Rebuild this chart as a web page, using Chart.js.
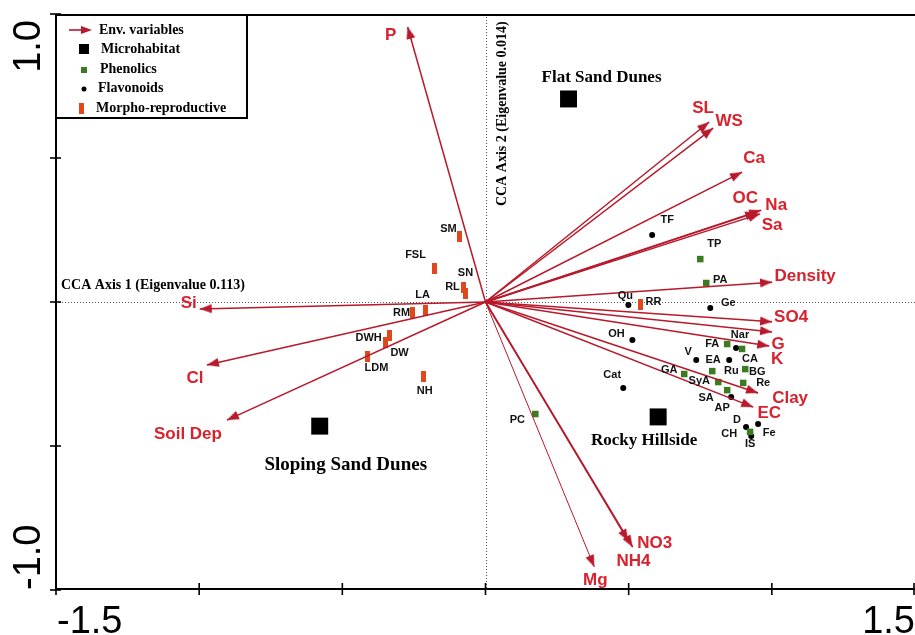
<!DOCTYPE html>
<html>
<head>
<meta charset="utf-8">
<script src="https://cdn.jsdelivr.net/npm/chart.js@4"></script>
<style>
  html, body { margin: 0; padding: 0; background: #fff; }
  canvas { display: block; }
</style>
</head>
<body>
<canvas id="cca" width="915" height="635"></canvas>
<script>
/* ---- data: CCA biplot scores ---- */
// environmental variables (arrow tips)
const envNames = ["P","SL","WS","Ca","OC","Na","Sa","Density","SO4","G","K","Clay","EC","NO3","NH4","Mg","Si","Cl","Soil Dep"];
const envX = [-0.272, 0.781, 0.795, 0.896, 0.949, 0.963, 0.959, 1.001, 1.001, 1.001, 0.991, 0.952, 0.935, 0.514, 0.499, 0.380, -0.998, -0.973, -0.903];
const envY = [ 0.955, 0.625, 0.604, 0.451, 0.312, 0.319, 0.306, 0.069, -0.069, -0.104, -0.153, -0.316, -0.365, -0.851, -0.830, -0.920, -0.024, -0.219, -0.410];

// microhabitats
const habNames = ["Flat Sand Dunes", "Sloping Sand Dunes", "Rocky Hillside"];
const habX = [0.290, -0.579, 0.603];
const habY = [0.705, -0.431, -0.399];

// phenolics
const phenNames = ["TP","PA","PC","FA","CA","Ru","BG","Re","GA","SyA","SA","IS"];
const phenX = [0.750, 0.771, 0.174, 0.844, 0.896, 0.792, 0.907, 0.900, 0.694, 0.813, 0.844, 0.924];
const phenY = [0.149, 0.066, -0.389, -0.146, -0.163, -0.240, -0.233, -0.281, -0.250, -0.278, -0.306, -0.451];

// flavonoids
const flavNames = ["TF","Qu","Ge","OH","Cat","Nar","V","EA","AP","D","Fe","CH"];
const flavX = [0.582, 0.499, 0.785, 0.513, 0.481, 0.875, 0.736, 0.851, 0.858, 0.910, 0.952, 0.928];
const flavY = [0.233, -0.010, -0.021, -0.132, -0.299, -0.160, -0.201, -0.201, -0.330, -0.434, -0.424, -0.465];

// morpho-reproductive traits
const morphNames = ["SM","FSL","SN","RL","LA","RM","DWH","DW","LDM","NH","RR"];
const morphX = [-0.091, -0.178, -0.077, -0.070, -0.209, -0.255, -0.335, -0.349, -0.412, -0.216, 0.541];
const morphY = [0.226, 0.115, 0.049, 0.031, -0.028, -0.038, -0.118, -0.142, -0.188, -0.260, -0.007];

// axes
const xTicks = [-1.5, -1, -0.5, 0, 0.5, 1, 1.5];
const yTicks = [-1, -0.5, 0, 0.5, 1];
const xTickText = {"-1.5": "-1.5", "1.5": "1.5"};
const yTickText = {"-1": "-1.0", "1": "1.0"};
const axis1Title = "CCA Axis 1 (Eigenvalue 0.113)";
const axis2Title = "CCA Axis 2 (Eigenvalue 0.014)";

/* ---- label placement (pixel offsets from each mark) ---- */
const labelOff = {
  "P":[-17,8], "SL":[-6,-14], "WS":[16,-7], "Ca":[12,-14], "OC":[-12,-14], "Na":[15,-5], "Sa":[12,11],
  "Density":[33,-6], "SO4":[19,-5], "G":[6,12], "K":[8,13], "Clay":[32,5], "EC":[16,6],
  "NO3":[22,-4], "NH4":[5,20], "Mg":[1,13], "Si":[-11,-6], "Cl":[-12,13], "Soil Dep":[-39,14],
  "Flat Sand Dunes":[33,-21], "Sloping Sand Dunes":[26,39], "Rocky Hillside":[-14,24],
  "TP":[14,-15], "PA":[14,-3], "PC":[-18,6], "FA":[-15,0], "CA":[8,10], "Ru":[19,0], "BG":[12,3],
  "Re":[20,0], "GA":[-15,-4], "SyA":[-19,-1], "SA":[-21,8], "IS":[0,12],
  "TF":[15,-15], "Qu":[-3,-9], "Ge":[18,-5], "OH":[-16,-6], "Cat":[-11,-13], "Nar":[4,-13], "V":[-8,-8],
  "EA":[-16,0], "AP":[-9,11], "D":[-9,-7], "Fe":[11,9], "CH":[-22,-2],
  "SM":[-11,-8], "FSL":[-19,-14], "SN":[2,-15], "RL":[-13,-6], "LA":[-3,-15], "RM":[-11,0],
  "DWH":[-21,2], "DW":[14,10], "LDM":[9,12], "NH":[1,14], "RR":[13,-2]
};

const RED_LINE = "#b8192b", RED_TEXT = "#d8222e", GREEN = "#3a7c1f", ORANGE = "#e0471d";
const SERIF = "'Liberation Serif','Times New Roman',serif";
const SANS = "'Liberation Sans',Arial,sans-serif";

function sprite(w, h, draw) {
  const c = document.createElement("canvas");
  c.width = w; c.height = h;
  draw(c.getContext("2d"));
  return c;
}
// arrow head: apex sits at the centre of the sprite so it lands on the data point
const headImg = sprite(10, 26, g => {
  g.fillStyle = RED_LINE;
  g.beginPath(); g.moveTo(5, 13); g.lineTo(9.5, 25); g.lineTo(0.5, 25); g.closePath(); g.fill();
});
const barImg = sprite(5, 11, g => { g.fillStyle = ORANGE; g.fillRect(0, 0, 5, 11); });

const pts = (xs, ys) => xs.map((x, i) => ({x, y: ys[i]}));

function headAngle(ctx) {
  const s = ctx.chart.scales, i = ctx.datasetIndex;
  const dx = s.x.getPixelForValue(envX[i]) - s.x.getPixelForValue(0);
  const dy = s.y.getPixelForValue(envY[i]) - s.y.getPixelForValue(0);
  return Math.atan2(dx, -dy) * 180 / Math.PI;
}

const envSets = envNames.map((n, i) => ({
  label: n, names: [null, n], kind: "env",
  data: [{x: 0, y: 0}, {x: envX[i], y: envY[i]}],
  showLine: true, borderColor: RED_LINE, borderWidth: n === "Mg" ? 1 : 1.5,
  pointRadius: [0, 6], pointStyle: headImg, pointRotation: headAngle,
  backgroundColor: RED_LINE
}));

const pointSets = [
  {label: "Microhabitat", names: habNames, kind: "hab", data: pts(habX, habY),
   pointStyle: "rect", pointRadius: 12, backgroundColor: "#000", borderWidth: 0},
  {label: "Phenolics", names: phenNames, kind: "small", data: pts(phenX, phenY),
   pointStyle: "rect", pointRadius: 4.6, backgroundColor: GREEN, borderWidth: 0},
  {label: "Flavonoids", names: flavNames, kind: "small", data: pts(flavX, flavY),
   pointStyle: "circle", pointRadius: 3, backgroundColor: "#000", borderWidth: 0},
  {label: "Morpho-reproductive", names: morphNames, kind: "small", data: pts(morphX, morphY),
   pointStyle: barImg, pointRadius: 5, backgroundColor: ORANGE, borderWidth: 0}
];

/* ---- frame, ticks, titles, legend and text labels ---- */
const decor = {
  id: "decor",
  beforeDatasetsDraw(chart) {
    const {ctx, chartArea: a, scales: {x, y}} = chart;
    ctx.save();
    ctx.strokeStyle = "#555"; ctx.lineWidth = 1; ctx.setLineDash([1, 2]);
    const x0 = Math.round(x.getPixelForValue(0)) + 0.5, y0 = Math.round(y.getPixelForValue(0)) + 0.5;
    ctx.beginPath(); ctx.moveTo(x0, a.top); ctx.lineTo(x0, a.bottom); ctx.stroke();
    ctx.beginPath(); ctx.moveTo(a.left, y0); ctx.lineTo(a.right, y0); ctx.stroke();
    ctx.restore();
  },
  afterDatasetsDraw(chart) {
    const ctx = chart.ctx;
    ctx.save();
    ctx.textAlign = "center"; ctx.textBaseline = "middle";
    chart.data.datasets.forEach((ds, di) => {
      const meta = chart.getDatasetMeta(di);
      if (ds.kind === "env") { ctx.font = "bold 17px " + SANS; ctx.fillStyle = RED_TEXT; }
      else if (ds.kind === "small") { ctx.font = "bold 11px " + SANS; ctx.fillStyle = "#111"; }
      ds.names.forEach((n, i) => {
        if (!n) return;
        if (ds.kind === "hab") {
          ctx.font = "bold " + (n === "Sloping Sand Dunes" ? 19 : 17) + "px " + SERIF;
          ctx.fillStyle = "#000";
        }
        const el = meta.data[i], o = labelOff[n] || [0, 0];
        ctx.fillText(n, el.x + o[0], el.y + o[1]);
      });
    });
    ctx.restore();
  },
  afterDraw(chart) {
    const {ctx, chartArea: a, scales: {x, y}} = chart;
    ctx.save();
    // frame: left + bottom axes, top border
    ctx.strokeStyle = "#000"; ctx.lineWidth = 2;
    const L = a.left, B = a.bottom - 1, T = a.top + 1;
    ctx.beginPath();
    ctx.moveTo(a.right + 2, T); ctx.lineTo(L, T); ctx.lineTo(L, B); ctx.lineTo(a.right + 2, B);
    ctx.stroke();
    // crossing tick marks
    ctx.lineWidth = 1.6;
    xTicks.forEach(v => {
      const px = Math.min(x.getPixelForValue(v), a.right - 1);
      ctx.beginPath(); ctx.moveTo(px, B - 6); ctx.lineTo(px, B + 6); ctx.stroke();
    });
    yTicks.forEach(v => {
      const py = y.getPixelForValue(v);
      ctx.beginPath(); ctx.moveTo(L - 6, py); ctx.lineTo(L + 5, py); ctx.stroke();
    });
    // tick labels (only the extremes are printed)
    ctx.fillStyle = "#000"; ctx.font = "38px " + SANS; ctx.textBaseline = "alphabetic";
    xTicks.forEach(v => {
      const t = xTickText[String(v)];
      if (!t) return;
      ctx.textAlign = v < 0 ? "left" : "right";
      ctx.fillText(t, v < 0 ? L + 1 : a.right, 633);
    });
    yTicks.forEach(v => {
      const t = yTickText[String(v)];
      if (!t) return;
      ctx.save();
      ctx.translate(40, v > 0 ? a.top + 6 : a.bottom);
      ctx.rotate(-Math.PI / 2);
      ctx.textAlign = v > 0 ? "right" : "left";
      ctx.fillText(t, 0, 0);
      ctx.restore();
    });
    // axis titles
    ctx.font = "bold 14px " + SERIF; ctx.textBaseline = "middle"; ctx.textAlign = "left";
    ctx.fillText(axis1Title, 61, 285);
    ctx.save();
    ctx.translate(502, 206); ctx.rotate(-Math.PI / 2);
    ctx.fillText(axis2Title, 0, 0);
    ctx.restore();
    // legend box
    ctx.fillStyle = "#fff"; ctx.fillRect(L, T, 191, 103);
    ctx.strokeStyle = "#000"; ctx.lineWidth = 2; ctx.strokeRect(L, T, 191, 103);
    const rows = [
      {t: "Env. variables", y: 30, tx: 99},
      {t: "Microhabitat", y: 49, tx: 101},
      {t: "Phenolics", y: 69, tx: 100},
      {t: "Flavonoids", y: 88, tx: 98},
      {t: "Morpho-reproductive", y: 108, tx: 96}
    ];
    // symbols
    ctx.strokeStyle = RED_LINE; ctx.lineWidth = 1.6;
    ctx.beginPath(); ctx.moveTo(69, 30); ctx.lineTo(84, 30); ctx.stroke();
    ctx.fillStyle = RED_LINE;
    ctx.beginPath(); ctx.moveTo(92, 30); ctx.lineTo(81, 26); ctx.lineTo(81, 34); ctx.closePath(); ctx.fill();
    ctx.fillStyle = "#000"; ctx.fillRect(79, 44, 10, 10);
    ctx.fillStyle = GREEN; ctx.fillRect(81, 67, 6, 6);
    ctx.fillStyle = "#000"; ctx.beginPath(); ctx.arc(84, 89, 2.5, 0, Math.PI * 2); ctx.fill();
    ctx.drawImage(barImg, 79, 103);
    ctx.fillStyle = "#000"; ctx.font = "bold 14px " + SERIF;
    rows.forEach(r => ctx.fillText(r.t, r.tx, r.y));
    ctx.restore();
  }
};

new Chart(document.getElementById("cca"), {
  type: "scatter",
  data: {datasets: [...envSets, ...pointSets]},
  options: {
    responsive: false,
    animation: false,
    devicePixelRatio: 1,
    layout: {autoPadding: false, padding: {left: 56, top: 14, right: 0, bottom: 45}},
    scales: {
      x: {type: "linear", min: -1.5, max: 1.5, display: false},
      y: {type: "linear", min: -1, max: 1, display: false}
    },
    plugins: {legend: {display: false}, tooltip: {enabled: false}},
    events: []
  },
  plugins: [decor]
});
</script>
</body>
</html>
